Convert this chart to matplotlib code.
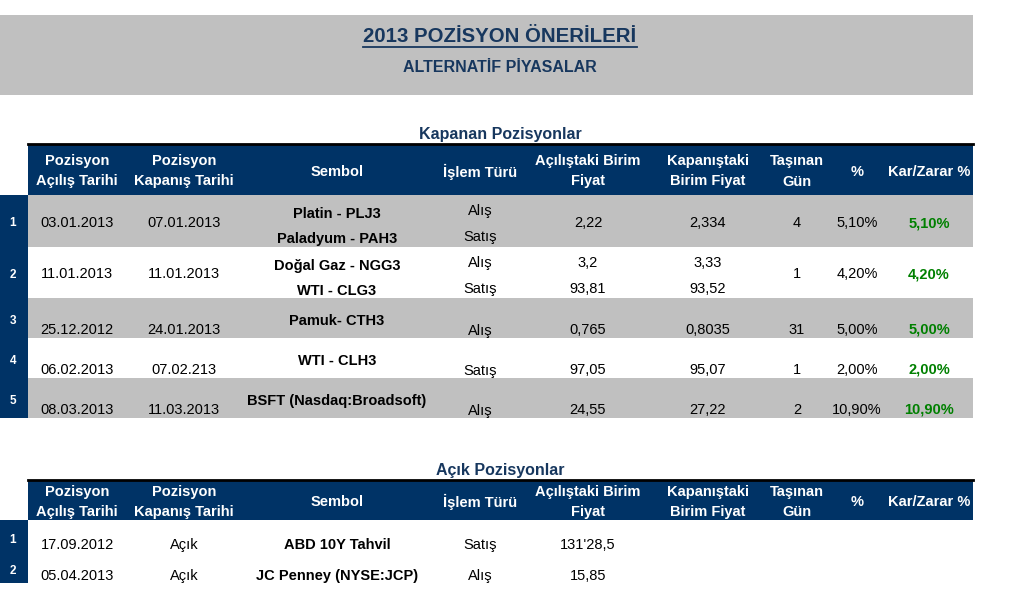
import matplotlib
matplotlib.use('Agg')
import matplotlib.pyplot as plt
from matplotlib.patches import Rectangle

plt.rcParams['font.family'] = ['Liberation Sans', 'DejaVu Sans']

# --- data ---
baslik = '2013 POZİSYON ÖNERİLERİ'
alt_baslik = 'ALTERNATİF PİYASALAR'
kapanan_baslik = 'Kapanan Pozisyonlar'
acik_baslik = 'Açık Pozisyonlar'

basliklar = [['Pozisyon', 'Açılış Tarihi'], ['Pozisyon', 'Kapanış Tarihi'], ['Sembol'],
             ['İşlem Türü'], ['Açılıştaki Birim', 'Fiyat'], ['Kapanıştaki', 'Birim Fiyat'],
             ['Taşınan', 'Gün'], ['%'], ['Kar/Zarar %']]

acilis_tarihi = ['03.01.2013', '11.01.2013', '25.12.2012', '06.02.2013', '08.03.2013']
kapanis_tarihi = ['07.01.2013', '11.01.2013', '24.01.2013', '07.02.213', '11.03.2013']
sembol = [['Platin - PLJ3', 'Paladyum - PAH3'], ['Doğal Gaz - NGG3', 'WTI - CLG3'],
          ['Pamuk- CTH3'], ['WTI - CLH3'], ['BSFT (Nasdaq:Broadsoft)']]
islem = [['Alış', 'Satış'], ['Alış', 'Satış'], ['Alış'], ['Satış'], ['Alış']]
acilis_fiyat = [['2,22'], ['3,2', '93,81'], ['0,765'], ['97,05'], ['24,55']]
kapanis_fiyat = [['2,334'], ['3,33', '93,52'], ['0,8035'], ['95,07'], ['27,22']]
tasinan_gun = [4, 1, 31, 1, 2]
yuzde = [5.10, 4.20, 5.00, 2.00, 10.90]
kar_zarar = [5.10, 4.20, 5.00, 2.00, 10.90]

acik_acilis_tarihi = ['17.09.2012', '05.04.2013']
acik_kapanis = ['Açık', 'Açık']
acik_sembol = ['ABD 10Y Tahvil', 'JC Penney (NYSE:JCP)']
acik_islem = ['Satış', 'Alış']
acik_acilis_fiyat = ["131'28,5", '15,85']

# --- layout / style ---
NAVY = '#003366'
TITLE_C = '#17375E'
GRAY = '#C0C0C0'
GREEN = '#008000'
FS = 10.5
DY = 2  # va='center' sits a bit high compared to excel rendering
col_x = [77, 184, 337, 480, 588, 708, 797, 857, 929]
TABLE_L, TABLE_R, IDX_W = 28, 973, 28

# closed positions: row tops / bottoms
row_top = [195, 247, 298, 338, 378]
row_bot = [247, 298, 338, 378, 418]

# open positions
acik_top = [520, 552]
acik_bot = [552, 583]


def pct(v):
    return ('%.2f%%' % v).replace('.', ',')


def txt(x, y, s, **kw):
    kw.setdefault('fontsize', FS)
    return ax.text(x, y + DY, s, ha='center', va='center', **kw)


fig = plt.figure(figsize=(10.25, 5.95), dpi=100)
ax = fig.add_axes([0, 0, 1, 1])
ax.set_xlim(0, 1025)
ax.set_ylim(595, 0)
ax.axis('off')

# title band
ax.add_patch(Rectangle((0, 15), 973, 80, color=GRAY, lw=0))
t = txt(500, 35, baslik, fontsize=14.7, fontweight='bold', color=TITLE_C)
txt(500, 66, alt_baslik, fontsize=11.5, fontweight='bold', color=TITLE_C)
fig.canvas.draw()
bb = t.get_window_extent().transformed(ax.transData.inverted())
ax.plot([bb.x0, bb.x1], [47, 47], color=TITLE_C, lw=1.3)


def header(y0, y1, title, ty):
    txt(500, ty, title, fontsize=11.5, fontweight='bold', color=TITLE_C)
    ax.add_patch(Rectangle((TABLE_L, y0), TABLE_R - TABLE_L, y1 - y0, color=NAVY, lw=0))
    ax.plot([TABLE_L, TABLE_R], [y0, y0], color='black', lw=2)
    mid = (y0 + y1) / 2
    for x, lines in zip(col_x, basliklar):
        if len(lines) == 1:
            txt(x, mid, lines[0], fontweight='bold', color='white')
        else:
            txt(x, mid - 10, lines[0], fontweight='bold', color='white')
            txt(x, mid + 10, lines[1], fontweight='bold', color='white')


header(144, 195, kapanan_baslik, 133)

# closed rows
for i in range(len(acilis_tarihi)):
    top, bot = row_top[i], row_bot[i]
    fill = GRAY if i % 2 == 0 else 'white'
    ax.add_patch(Rectangle((TABLE_L, top), TABLE_R - TABLE_L, bot - top, color=fill, lw=0))
    ax.add_patch(Rectangle((0, top), IDX_W, bot - top, color=NAVY, lw=0))
    double = len(sembol[i]) == 2
    mid = (top + bot) / 2
    if double:
        y_val = mid
        y_idx = mid
        y_sym = [top + 17, top + 42]
        y_isl = [top + 14, top + 40]
    else:
        y_val = top + 30
        y_idx = top + 21
        y_sym = [top + 21]
        y_isl = [top + 31]
    txt(13, y_idx, str(i + 1), fontsize=8.5, fontweight='bold', color='white')
    txt(col_x[0], y_val, acilis_tarihi[i])
    txt(col_x[1], y_val, kapanis_tarihi[i])
    for s, y in zip(sembol[i], y_sym):
        txt(col_x[2], y, s, fontweight='bold')
    for s, y in zip(islem[i], y_isl):
        txt(col_x[3], y, s)
    for col, vals in ((4, acilis_fiyat[i]), (5, kapanis_fiyat[i])):
        ys = y_isl if len(vals) == 2 else [y_val]
        for s, y in zip(vals, ys):
            txt(col_x[col], y, s)
    txt(col_x[6], y_val, str(tasinan_gun[i]))
    txt(col_x[7], y_val, pct(yuzde[i]))
    txt(col_x[8], y_val, pct(kar_zarar[i]), fontweight='bold', color=GREEN)

header(480, 520, acik_baslik, 469)

# open rows
for i in range(len(acik_sembol)):
    top, bot = acik_top[i], acik_bot[i]
    ax.add_patch(Rectangle((0, top), IDX_W, bot - top, color=NAVY, lw=0))
    y = bot - 9
    txt(13, bot - 14, str(i + 1), fontsize=8.5, fontweight='bold', color='white')
    txt(col_x[0], y, acik_acilis_tarihi[i])
    txt(col_x[1], y, acik_kapanis[i])
    txt(col_x[2], y, acik_sembol[i], fontweight='bold')
    txt(col_x[3], y, acik_islem[i])
    txt(col_x[4], y, acik_acilis_fiyat[i])

fig.savefig('out.png', dpi=100)
